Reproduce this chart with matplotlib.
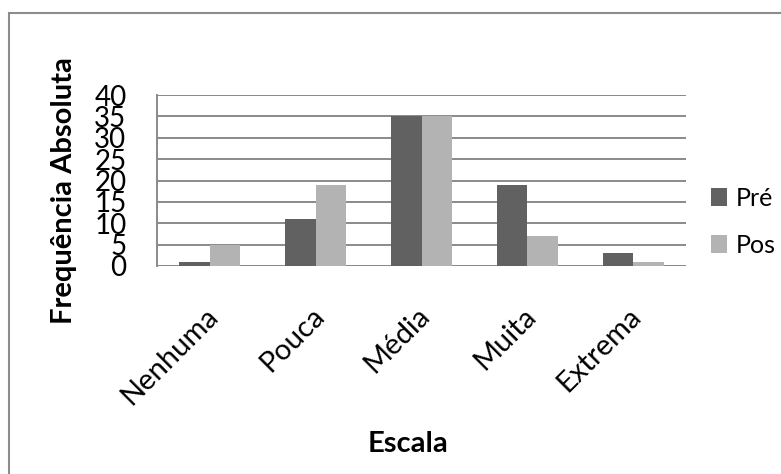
import numpy as np
import matplotlib
matplotlib.use("Agg")
import matplotlib.pyplot as plt
from matplotlib.patches import Rectangle
from matplotlib.transforms import ScaledTranslation

# data
categories = ["Nenhuma", "Pouca", "Média", "Muita", "Extrema"]
pre_values = [1, 11, 35, 19, 3]
pos_values = [5, 19, 35, 7, 1]
series_names = ["Pré", "Pos"]
y_ticks = [0, 5, 10, 15, 20, 25, 30, 35, 40]

plt.rcParams['font.family'] = ['Lato', 'DejaVu Sans']

W, H = 781, 474
fig = plt.figure(figsize=(W / 100, H / 100), dpi=100)

# plot area in pixels: x 157..686, y 95..266
ax = fig.add_axes([157 / W, 1 - 266 / H, (686 - 157) / W, (266 - 95) / H])

dark = '#616161'
light = '#b3b3b3'
grid_col = '#8a8a8a'

x = np.arange(len(categories))
bw = 0.289
ax.bar(x - bw / 2, pre_values, bw, color=dark, label=series_names[0], zorder=3)
ax.bar(x + bw / 2, pos_values, bw, color=light, label=series_names[1], zorder=3)

ax.set_xlim(-0.5, len(categories) - 0.5)
ax.set_ylim(0, 40)
ax.set_yticks(y_ticks)
ax.set_yticklabels([str(v) for v in y_ticks], fontsize=20)
ax.yaxis.grid(True, color=grid_col, linewidth=1.4, zorder=0)
ax.set_axisbelow(True)

for side in ['top', 'right', 'bottom']:
    ax.spines[side].set_visible(False)
ax.spines['left'].set_color(grid_col)
ax.spines['left'].set_linewidth(1.4)
ax.axhline(0, color=grid_col, linewidth=1.4, zorder=2)
ax.axhline(40, color=grid_col, linewidth=1.4, zorder=2)

ax.tick_params(axis='y', length=0, pad=22)
ax.tick_params(axis='x', length=0, pad=33)
ax.set_xticks(x)
ax.set_xticklabels(categories, fontsize=21, rotation=45, ha='right',
                   va='center', rotation_mode='anchor')
for lab in ax.get_xticklabels():
    lab.set_transform(lab.get_transform() + ScaledTranslation(3 / 72, 0, fig.dpi_scale_trans))

fig.text(64 / W, 1 - 191 / H, 'Frequência Absoluta', rotation=90,
         ha='center', va='center', fontsize=21, fontweight='bold')
fig.text(408 / W, 1 - 444 / H, 'Escala', ha='center', va='center',
         fontsize=21, fontweight='bold')

ax.legend(loc='center left', bbox_to_anchor=(701 / W, 1 - 222 / H),
          bbox_transform=fig.transFigure, frameon=False, fontsize=18,
          handlelength=0.64, handleheight=0.72, handletextpad=0.35,
          labelspacing=0.95, borderaxespad=0)

# outer chart border (right/bottom edges fall outside the image)
border = Rectangle((8.5 / W, -0.1), 1.2, 1.1 - 13 / H, transform=fig.transFigure,
                   fill=False, edgecolor='#8c8c8c', linewidth=1.5, clip_on=False)
fig.patches.append(border)

fig.savefig('out.png', dpi=100)
